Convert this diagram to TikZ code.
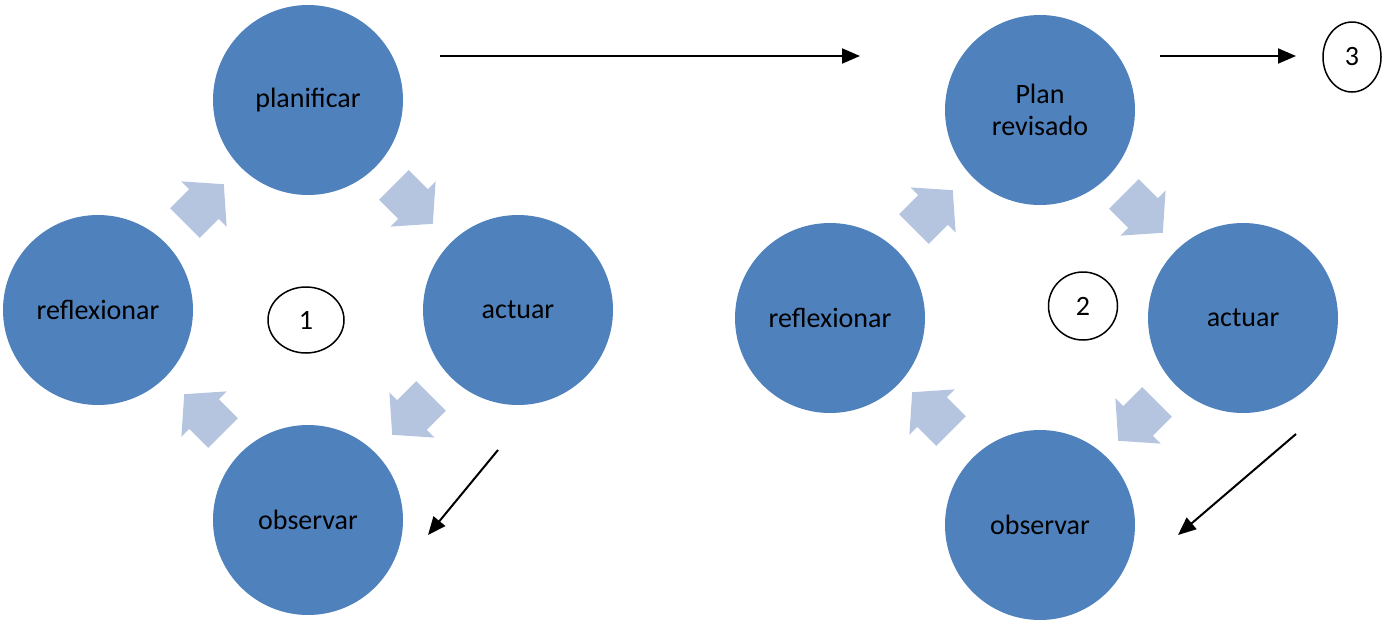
\documentclass[tikz,border=0pt]{standalone}
\usepackage{fontspec}
\setmainfont{Carlito}
\usetikzlibrary{arrows.meta,shapes.geometric}
\definecolor{cycblue}{HTML}{4F81BD}
\definecolor{arrblue}{HTML}{B5C5E0}
\tikzset{
  stage/.style={circle,fill=cycblue,minimum size=190pt,inner sep=0pt,text=black,font=\fontsize{28}{32}\selectfont,align=center},
  num/.style={ellipse,draw=black,line width=1.5pt,fill=white,inner sep=0pt,font=\fontsize{28}{32}\selectfont},
  link/.style={line width=2pt,-{Triangle[length=18pt,width=15pt]}},
  cycarrow/.pic={\fill[arrblue] (-27,-21) -- (0,-21) -- (0,-32) -- (28,0) -- (0,32) -- (0,21) -- (-27,21) -- cycle;}
}
\begin{document}
\begin{tikzpicture}[x=1pt,y=-1pt]
\useasboundingbox (0,0) rectangle (1382,619);
% left cycle
\node[stage] (p1) at (308,100) {planificar};
\node[stage] (a1) at (518,310) {actuar};
\node[stage] (r1) at (98,310) {reflexionar};
\node[stage] (o1) at (308,520) {observar};
\node[num,minimum width=76pt,minimum height=66pt] (n1) at (306,320) {1};
\pic[rotate=45] at (204,204) {cycarrow};
\pic[rotate=-45] at (413,204) {cycarrow};
\pic[rotate=-135] at (412,415) {cycarrow};
\pic[rotate=135] at (204,414) {cycarrow};
% right cycle
\node[stage] (p2) at (1040,110) {Plan\\revisado};
\node[stage] (a2) at (1243,318) {actuar};
\node[stage] (r2) at (830,318) {reflexionar};
\node[stage] (o2) at (1040,525) {observar};
\node[num,minimum width=69pt,minimum height=68pt] (n2) at (1083,306) {2};
\node[num,minimum width=58pt,minimum height=70pt] (n3) at (1352,57) {3};
\pic[rotate=45] at (933,210) {cycarrow};
\pic[rotate=-45] at (1143,213) {cycarrow};
\pic[rotate=-135] at (1138,421) {cycarrow};
\pic[rotate=135] at (932,412) {cycarrow};
% connectors
\coordinate (t1s) at (440,56);
\coordinate (t1e) at (860,56);
\coordinate (t2s) at (1160,56);
\coordinate (t2e) at (1296,56);
\coordinate (d1s) at (498,450);
\coordinate (d1e) at (428,535);
\coordinate (d2s) at (1296,434);
\coordinate (d2e) at (1178,535);
\draw[link] (t1s) -- (t1e);
\draw[link] (t2s) -- (t2e);
\draw[link] (d1s) -- (d1e);
\draw[link] (d2s) -- (d2e);
\end{tikzpicture}
\end{document}
